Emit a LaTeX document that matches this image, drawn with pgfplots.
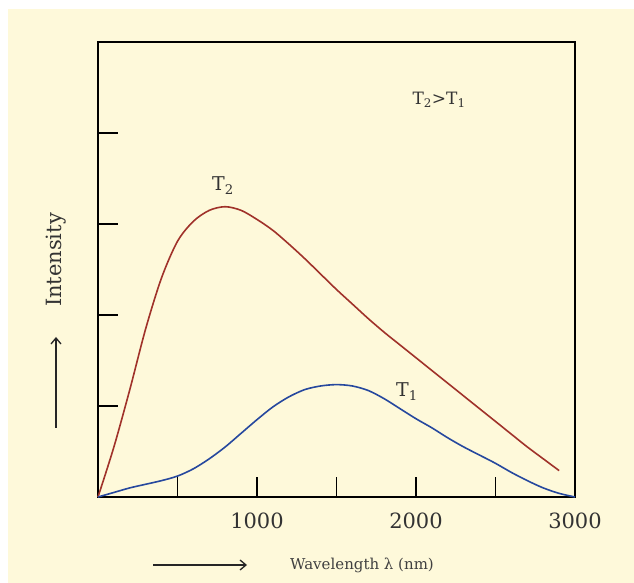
\documentclass[border=0pt]{standalone}
\usepackage{pgfplots}
\pgfplotsset{compat=1.18}
\usepackage{fontspec}
\setmainfont{DejaVu Serif}
\usetikzlibrary{arrows.meta}
\definecolor{cream}{RGB}{254,249,218}
\definecolor{tred}{RGB}{160,50,42}
\definecolor{tblue}{RGB}{38,72,158}
\begin{document}
\begin{tikzpicture}[x=1pt,y=1pt]
\fill[white] (-98,-86) rectangle (536,497);
\fill[cream] (-90,-86) rectangle (536,488);
\begin{axis}[
  at={(0,0)}, anchor=south west,
  scale only axis, width=477pt, height=455pt,
  xmin=0, xmax=3000, ymin=0, ymax=5,
  axis line style={line width=1.6pt},
  tick align=inside,
  xtick={500,1000,1500,2000,2500,3000},
  xticklabels={,1000,,2000,,3000},
  ytick={1,2,3,4}, yticklabels={},
  x tick style={line width=1.3pt, black},
  y tick style={line width=1.3pt, black},
  xtick pos=bottom, ytick pos=left,
  major tick length=20pt,
  /pgf/number format/assume math mode=true,
  xticklabel style={font=\fontsize{21}{21}\selectfont, color=black!80, yshift=-12pt},
  clip=false,
]
\addplot[tred, line width=1.6pt, smooth, tension=0.5] coordinates {
(0,0) (100,0.55) (200,1.18) (300,1.85) (400,2.41) (500,2.81) (600,3.03)
(700,3.15) (800,3.19) (900,3.15) (1000,3.05) (1100,2.93) (1200,2.78)
(1300,2.62) (1400,2.45) (1500,2.28) (1600,2.12) (1700,1.96) (1800,1.81)
(1900,1.67) (2000,1.53) (2100,1.39) (2200,1.25) (2300,1.11) (2400,0.97)
(2500,0.83) (2600,0.69) (2700,0.55) (2800,0.42) (2900,0.29)
};
\addplot[tblue, line width=1.6pt, smooth, tension=0.5] coordinates {
(0,0) (100,0.05) (200,0.10) (300,0.14) (400,0.18) (500,0.23) (600,0.31)
(700,0.42) (800,0.55) (900,0.70) (1000,0.85) (1100,0.99) (1200,1.10)
(1300,1.18) (1400,1.22) (1500,1.235) (1600,1.22) (1700,1.17) (1800,1.08)
(1900,0.97) (2000,0.86) (2100,0.76) (2200,0.65) (2300,0.55) (2400,0.46)
(2500,0.37) (2600,0.27) (2700,0.18) (2800,0.10) (2900,0.04) (3000,0)
};
\node[font=\fontsize{17}{17}\selectfont, text=black!80] at (axis cs:2145,4.36) {T\textsubscript{2}>T\textsubscript{1}};
\node[font=\fontsize{19}{19}\selectfont, text=black!80] at (axis cs:786,3.42) {T\textsubscript{2}};
\node[font=\fontsize{19}{19}\selectfont, text=black!80] at (axis cs:1943,1.16) {T\textsubscript{1}};
\end{axis}
\node[rotate=90, font=\fontsize{21}{21}\selectfont, text=black!80] at (-42,237) {Intensity};
\draw[line width=1.3pt, black!85, -{Straight Barb[length=6pt,width=10pt]}] (-42,69) -- (-42,160);
\node[font=\fontsize{15}{15}\selectfont, text=black!75] at (264,-68) {Wavelength λ (nm)};
\draw[line width=1.3pt, black!85, -{Straight Barb[length=6pt,width=10pt]}] (55,-68) -- (149,-68);
\end{tikzpicture}
\end{document}
